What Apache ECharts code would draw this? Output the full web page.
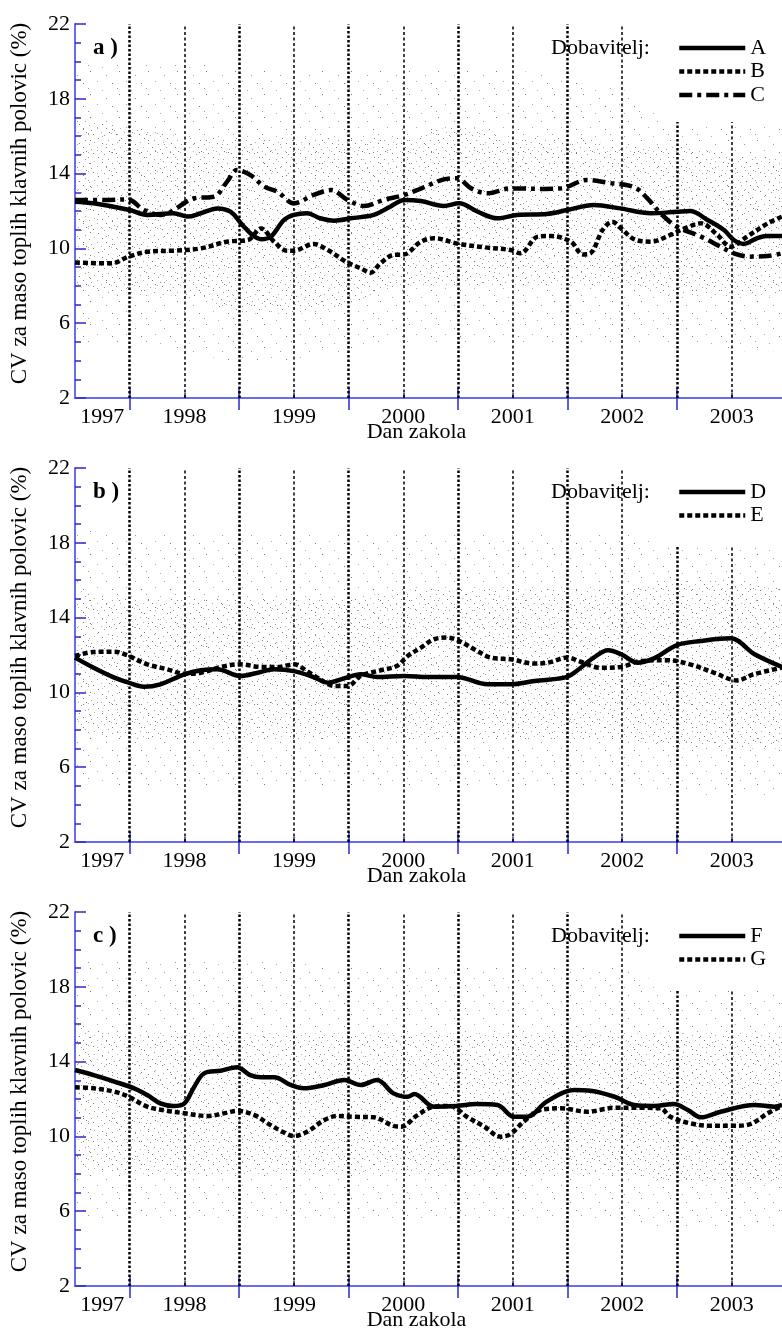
<!DOCTYPE html>
<html>
<head>
<meta charset="utf-8">
<script src="https://cdn.jsdelivr.net/npm/echarts@6/dist/echarts.min.js"></script>
<style>html,body{margin:0;padding:0;background:#fff}#c{width:782px;height:1334px}</style>
</head>
<body>
<div id="c"></div>
<script>
// ---------- axis / tick labels ----------
const xMin = 1997.5, xMax = 2003.96;
const yearLabels = ['1997','1998','1999','2000','2001','2002','2003'];
const yearLabelAt = [1997.75,1998.5,1999.5,2000.5,2001.5,2002.5,2003.5];
const yearStarts = [1998,1999,2000,2001,2002,2003];
const midYears = [1998.5,1999.5,2000.5,2001.5,2002.5,2003.5];
const yTickLabels = [2,6,10,14,18,22];
const panelLabels = ['a )','b )','c )'];
const legendTitle = 'Dobavitelj:';
const xName = 'Dan zakola';
const yName = 'CV za maso toplih klavnih polovic (%)';

// ---------- panel a: suppliers A, B, C ----------
const xA = [1997.5,1997.67,1998.0,1998.16,1998.40,1998.53,1998.65,1998.80,1998.92,1999.03,1999.12,1999.20,1999.29,1999.41,1999.50,1999.62,1999.74,1999.87,2000.02,2000.23,2000.38,2000.51,2000.66,2000.87,2001.01,2001.18,2001.36,2001.54,2001.81,2002.0,2002.24,2002.48,2002.76,2003.0,2003.12,2003.28,2003.43,2003.52,2003.61,2003.73,2003.82,2003.96];
const yA = [12.5,12.41,12.05,11.79,11.88,11.7,11.88,12.14,11.96,11.25,10.72,10.49,10.63,11.52,11.79,11.88,11.61,11.48,11.61,11.79,12.23,12.59,12.53,12.27,12.41,11.96,11.61,11.79,11.84,12.05,12.32,12.14,11.88,11.96,12.0,11.52,10.98,10.45,10.24,10.54,10.66,10.66];
const xB = [1997.5,1997.83,1997.99,1998.16,1998.40,1998.65,1998.89,1999.08,1999.20,1999.32,1999.44,1999.50,1999.68,1999.81,1999.99,2000.11,2000.20,2000.29,2000.41,2000.51,2000.66,2000.78,2001.01,2001.24,2001.48,2001.57,2001.73,2001.85,2002.03,2002.14,2002.21,2002.32,2002.41,2002.49,2002.61,2002.76,2002.94,2003.07,2003.22,2003.37,2003.49,2003.64,2003.83,2003.96];
const yB = [9.24,9.2,9.56,9.82,9.88,10.0,10.36,10.45,11.07,10.36,9.88,9.88,10.24,9.91,9.24,8.94,8.7,9.2,9.65,9.68,10.36,10.54,10.24,10.06,9.91,9.74,10.63,10.66,10.36,9.68,9.74,10.98,11.43,11.07,10.49,10.36,10.72,11.07,11.34,10.72,10.09,10.63,11.34,11.7];
const xC = [1997.5,1997.77,1997.98,1998.13,1998.28,1998.59,1998.77,1998.89,1998.98,1999.10,1999.23,1999.35,1999.50,1999.68,1999.84,1999.99,2000.14,2000.32,2000.51,2000.66,2000.87,2000.99,2001.12,2001.27,2001.48,2001.79,2001.94,2002.18,2002.37,2002.61,2002.73,2002.85,2003.0,2003.22,2003.40,2003.52,2003.67,2003.83,2003.96];
const yC = [12.59,12.59,12.62,12.05,11.79,12.68,12.77,13.57,14.19,13.93,13.3,13.03,12.41,12.86,13.12,12.59,12.27,12.59,12.86,13.2,13.69,13.75,13.21,12.95,13.21,13.18,13.21,13.66,13.51,13.27,12.68,11.88,11.16,10.63,10.09,9.74,9.56,9.59,9.74];

// ---------- panel b: suppliers D, E ----------
const xD = [1997.5,1997.67,1997.86,1997.99,1998.13,1998.28,1998.50,1998.65,1998.80,1999.01,1999.17,1999.32,1999.50,1999.68,1999.81,1999.96,2000.11,2000.26,2000.51,2000.72,2000.99,2001.27,2001.48,2001.70,2001.97,2002.06,2002.24,2002.37,2002.49,2002.64,2002.79,2003.0,2003.22,2003.49,2003.71,2003.96];
const yD = [11.86,11.32,10.79,10.52,10.3,10.43,10.97,11.18,11.24,10.88,11.05,11.24,11.14,10.82,10.52,10.75,10.97,10.82,10.88,10.82,10.82,10.43,10.43,10.61,10.79,11.05,11.86,12.25,12.04,11.59,11.82,12.53,12.75,12.89,12.04,11.36];
const xE = [1997.5,1997.67,1997.86,1997.99,1998.16,1998.34,1998.50,1998.65,1998.83,1999.01,1999.20,1999.35,1999.50,1999.62,1999.74,1999.87,1999.99,2000.11,2000.29,2000.44,2000.54,2000.66,2000.78,2000.90,2001.01,2001.15,2001.30,2001.48,2001.70,2001.82,2002.0,2002.12,2002.30,2002.49,2002.67,2002.91,2003.12,2003.34,2003.55,2003.70,2003.96];
const yE = [11.95,12.16,12.18,11.95,11.5,11.24,11.0,11.05,11.36,11.5,11.36,11.36,11.5,11.14,10.7,10.34,10.34,10.88,11.18,11.41,11.95,12.39,12.84,12.93,12.75,12.3,11.86,11.77,11.54,11.59,11.86,11.64,11.32,11.36,11.68,11.72,11.5,11.05,10.64,10.97,11.32];

// ---------- panel c: suppliers F, G ----------
const xF = [1997.5,1997.67,1997.86,1998.04,1998.16,1998.28,1998.40,1998.50,1998.59,1998.68,1998.83,1998.98,1999.10,1999.20,1999.32,1999.47,1999.59,1999.78,1999.96,2000.11,2000.26,2000.41,2000.54,2000.60,2000.78,2000.99,2001.17,2001.36,2001.51,2001.63,2001.81,2002.06,2002.21,2002.43,2002.61,2002.79,2002.97,2003.10,2003.22,2003.40,2003.71,2003.89,2003.96];
const yF = [13.55,13.28,12.93,12.57,12.21,11.77,11.63,11.77,12.66,13.37,13.51,13.7,13.28,13.16,13.16,12.75,12.57,12.75,13.02,12.75,13.02,12.3,12.12,12.27,11.59,11.63,11.73,11.68,11.05,11.05,11.86,12.48,12.44,12.12,11.68,11.63,11.73,11.41,11.02,11.32,11.68,11.59,11.68];
const xG = [1997.5,1997.67,1997.86,1997.99,1998.16,1998.34,1998.50,1998.71,1998.89,1998.98,1999.14,1999.26,1999.38,1999.50,1999.62,1999.78,1999.90,2000.05,2000.23,2000.41,2000.48,2000.63,2000.78,2000.93,2001.08,2001.24,2001.39,2001.48,2001.60,2001.75,2001.94,2002.18,2002.43,2002.67,2002.85,2002.94,2003.12,2003.31,2003.52,2003.67,2003.83,2003.96];
const yG = [12.63,12.57,12.39,12.12,11.59,11.37,11.24,11.09,11.27,11.37,11.14,10.7,10.3,10.02,10.25,10.88,11.09,11.05,11.02,10.56,10.52,11.14,11.59,11.63,11.05,10.52,9.98,10.13,10.79,11.41,11.5,11.32,11.53,11.53,11.5,11.05,10.7,10.57,10.57,10.66,11.24,11.63];

// ---------- approximate extent of the individual-carcass point cloud ----------
// inner (dense) and outer (sparse) envelopes
const hazeX = [1997.5,1998.0,1998.5,1999.0,1999.5,2000.0,2000.5,2001.0,2001.5,2002.0,2002.5,2003.0,2003.5,2003.96];
const hazeLoA = [8,7.5,7.5,6.5,6.5,7,8,8,8,8,8,7.5,7.5,7.5];
const hazeHiA = [17,16.5,16,16,16,16,16,16.5,16,16,15.5,15.5,15,15];
const outerLoA = [5,5,4.5,4,4,4.5,5,5,5,5,5,5,4.5,4.5];
const outerHiA = [20,20,20,19.5,19.5,19.5,19.5,19.5,19.5,19,18.5,16.7,16.5,16.5];
const hazeLoB = [8,7.5,7.5,7.5,7.5,7.5,7.5,7.5,7.5,7.5,7.5,7,7,7];
const hazeHiB = [15.5,15,15,15,15,15,15.5,15.5,15.5,15.5,15.5,16,16,15.5];
const outerLoB = [5.5,5,5,5,5,5,5,5,5,5,5,4.5,4.5,4.5];
const outerHiB = [19,18.5,18.5,18.5,18.5,18.5,18.5,18.5,18.5,18.5,18.5,17.8,17.8,17.8];
const hazeLoC = [8.5,8,8,8,8,8,8,8,8,8,8,7.5,7.5,7.5];
const hazeHiC = [16,15.5,15.5,15.5,15.5,15.5,15.5,15.5,15.5,15.5,15.5,15.5,15.5,15.5];
const outerLoC = [5.5,5.5,5.5,5.5,5.5,5.5,5.5,5.5,5.5,5.5,5.5,5,5,5];
const outerHiC = [19.5,19.5,19.5,19.5,19.5,19,19,19,19,19,19,17.8,17.8,17.8];

// ---------- stipple texture tiles (fixed hand-placed dot positions) ----------
const denseDots = [[1,1],[12,2],[19,0],[6,5],[16,7],[2,9],[10,10],[20,11],[5,14],[14,14],[22,16],[9,18],[17,18]];
const sparseDots = [[3,2],[19,6],[10,12],[25,14],[1,19],[15,21]];
const dotGreys = ['#7c7c7c','#9a9a9a','#b0b0b0'];

function makeTile(w, h, dots, bg) {
  const c = document.createElement('canvas');
  c.width = w; c.height = h;
  const g = c.getContext('2d');
  if (bg) { g.fillStyle = bg; g.fillRect(0, 0, w, h); }
  dots.forEach((d, i) => { g.fillStyle = dotGreys[i % dotGreys.length]; g.fillRect(d[0], d[1], 1, 1); });
  return c;
}
const denseTile = makeTile(23, 19, denseDots, null);
const sparseTile = makeTile(29, 23, sparseDots, null);
const sparseTileWhite = makeTile(29, 23, sparseDots, '#ffffff');

// ---------- build ----------
const FONT = '"Liberation Serif","Times New Roman",serif';
const AXIS_BLUE = '#6a6af2';
const TICK_BLUE = '#2a2ad0';
const STY = {
  solid: 'solid',
  dot: [5, 3],
  dashdot: [13, 5, 4, 5]
};
const panels = [
  {names:['A','B','C'], xs:[xA,xB,xC], ys:[yA,yB,yC], styles:['solid','dot','dashdot'], lo:hazeLoA, hi:hazeHiA, olo:outerLoA, ohi:outerHiA, cutTop:16.76},
  {names:['D','E'], xs:[xD,xE], ys:[yD,yE], styles:['solid','dot'], lo:hazeLoB, hi:hazeHiB, olo:outerLoB, ohi:outerHiB, cutTop:17.83},
  {names:['F','G'], xs:[xF,xG], ys:[yF,yG], styles:['solid','dot'], lo:hazeLoC, hi:hazeHiC, olo:outerLoC, ohi:outerHiC, cutTop:17.78}
];

function areaSeries(p, xs, ys, fill, z) {
  return {
    type: 'line', xAxisIndex: 2 * p, yAxisIndex: 2 * p,
    data: xs.map((x, i) => [x, ys[i]]), symbol: 'none', smooth: 0.4,
    lineStyle: {width: 0, color: 'rgba(0,0,0,0)'},
    areaStyle: {color: fill, opacity: 1, origin: 'start'},
    silent: true, z: z, animation: false
  };
}

const grids = [], xAxes = [], yAxes = [], series = [], legends = [], graphics = [];
panels.forEach((P, p) => {
  const top = 24 + p * 444;
  grids.push({left: 75, right: 0, top: top, height: 374, outerBoundsMode: 'none', containLabel: false});
  xAxes.push({
    type: 'value', gridIndex: p, min: xMin, max: xMax, position: 'bottom',
    axisLine: {show: true, onZero: false, lineStyle: {color: AXIS_BLUE, width: 2}},
    axisTick: {show: true, inside: true, length: 5, customValues: midYears, lineStyle: {color: TICK_BLUE, width: 1.5}},
    axisLabel: {customValues: yearLabelAt, margin: 8, color: '#000', fontFamily: FONT, fontSize: 22,
      formatter: v => { let bi = 0; yearLabelAt.forEach((a, i) => { if (Math.abs(a - v) < Math.abs(yearLabelAt[bi] - v)) bi = i; }); return yearLabels[bi]; }},
    splitLine: {show: false},
    name: xName, nameLocation: 'middle', nameGap: 23, nameMoveOverlap: false,
    nameTextStyle: {fontFamily: FONT, fontSize: 22, color: '#000', padding: [0, 24, 0, 0]}
  });
  xAxes.push({
    type: 'value', gridIndex: p, min: xMin, max: xMax, position: 'bottom', offset: -10,
    axisLine: {show: false, onZero: false}, axisLabel: {show: false}, splitLine: {show: false},
    axisTick: {show: true, inside: false, length: 22, customValues: yearStarts, lineStyle: {color: TICK_BLUE, width: 1.5}}
  });
  yAxes.push({
    type: 'value', gridIndex: p, position: 'left', min: 2, max: 22, interval: 1,
    axisLine: {show: true, onZero: false, lineStyle: {color: AXIS_BLUE, width: 2}},
    axisTick: {show: true, inside: true, length: 6, lineStyle: {color: TICK_BLUE, width: 1.5}},
    axisLabel: {margin: 5, color: '#000', fontFamily: FONT, fontSize: 22,
      formatter: v => yTickLabels.indexOf(Math.round(v)) >= 0 ? String(Math.round(v)) : ''},
    splitLine: {show: false},
    name: yName, nameLocation: 'middle', nameGap: 44, nameMoveOverlap: false,
    nameTextStyle: {fontFamily: FONT, fontSize: 23, color: '#000', padding: [0, 0, 0, 15]}
  });
  yAxes.push({
    type: 'value', gridIndex: p, position: 'left', min: 2, max: 22,
    axisLine: {show: false, onZero: false}, axisLabel: {show: false}, splitLine: {show: false},
    axisTick: {show: true, inside: true, length: 11, customValues: yTickLabels, lineStyle: {color: TICK_BLUE, width: 1.5}}
  });

  // point-cloud haze: sparse stipple in the outer envelope, denser stipple in the inner one
  series.push(areaSeries(p, hazeX, P.ohi, {image: sparseTile, repeat: 'repeat'}, -4));
  series.push(areaSeries(p, hazeX, P.hi, {image: denseTile, repeat: 'repeat'}, -3));
  series.push(areaSeries(p, hazeX, P.lo, {image: sparseTileWhite, repeat: 'repeat'}, -2));
  series.push(areaSeries(p, hazeX, P.olo, '#ffffff', -1));

  // vertical dotted reference lines
  const vlines = [];
  yearStarts.forEach(v => vlines.push([
    {coord: [v, 2], lineStyle: {type: [2.5, 2], width: 2.5, color: '#000'}},
    {coord: [v, v >= 2003 ? P.cutTop : 22]}
  ]));
  midYears.forEach(v => vlines.push([
    {coord: [v, 2], lineStyle: {type: [3, 2.5], width: 1.5, color: '#000'}},
    {coord: [v, v >= 2003 ? P.cutTop : 22]}
  ]));

  P.names.forEach((nm, k) => {
    const s = {
      type: 'line', name: nm, xAxisIndex: 2 * p, yAxisIndex: 2 * p,
      data: P.xs[k].map((x, i) => [x, P.ys[k][i]]),
      smooth: 0.35, symbol: 'none', silent: true, z: 3, animation: false,
      lineStyle: {color: '#000', width: 4.5, type: STY[P.styles[k]]},
      itemStyle: {color: '#000'}
    };
    if (k === 0) {
      s.markLine = {silent: true, symbol: ['none', 'none'], label: {show: false}, z: 2, animation: false, data: vlines};
    }
    series.push(s);
  });

  legends.push({
    data: P.names, orient: 'vertical', left: 677, top: top + 13, padding: 0,
    itemWidth: 66, itemHeight: 14, itemGap: 1.5, selectedMode: false,
    textStyle: {fontFamily: FONT, fontSize: 22, color: '#000'},
    lineStyle: {width: 4.5},
    itemStyle: {color: 'rgba(0,0,0,0)', borderWidth: 0, opacity: 0}
  });
  graphics.push({type: 'text', x: 93, y: top + 24, silent: true,
    style: {text: panelLabels[p], fontFamily: FONT, fontSize: 23, fontWeight: 'bold', fill: '#000', verticalAlign: 'middle'}});
  graphics.push({type: 'text', x: 551, y: top + 24, silent: true,
    style: {text: legendTitle, fontFamily: FONT, fontSize: 22, fill: '#000', verticalAlign: 'middle'}});
});

const chart = echarts.init(document.getElementById('c'), null, {renderer: 'canvas'});
chart.setOption({
  backgroundColor: '#fff',
  animation: false,
  grid: grids,
  xAxis: xAxes,
  yAxis: yAxes,
  legend: legends,
  graphic: graphics,
  series: series
});
</script>
</body>
</html>
